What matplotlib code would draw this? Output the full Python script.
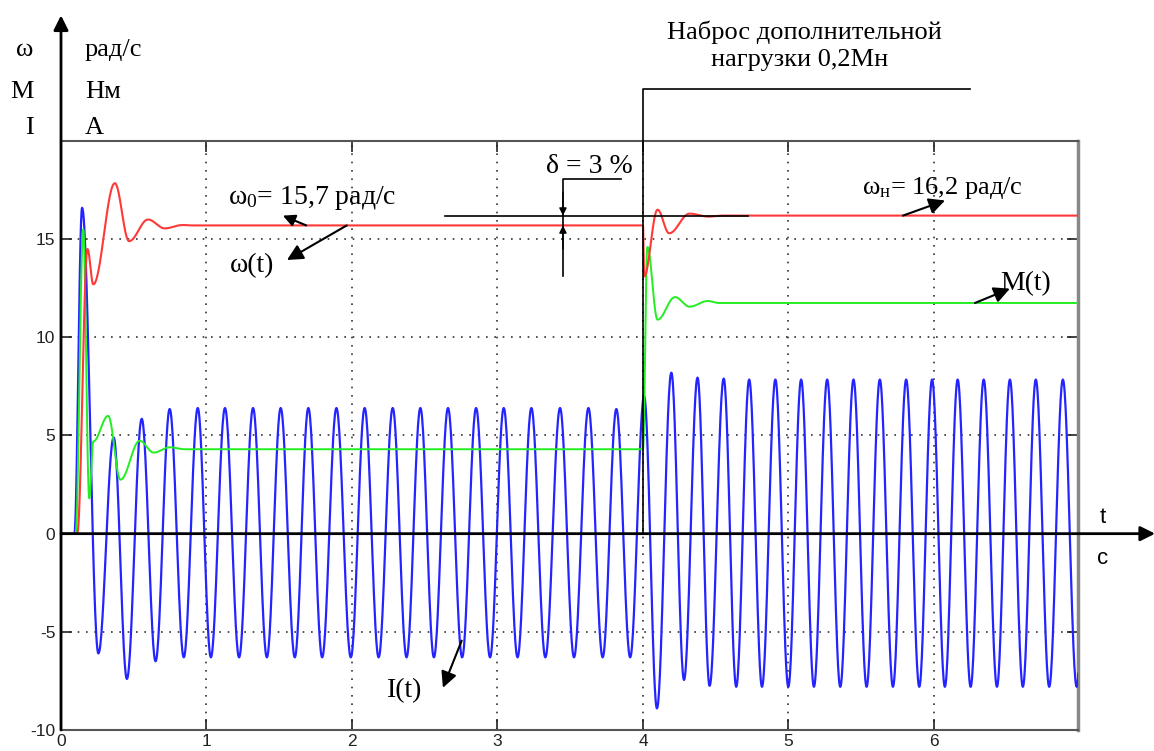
import numpy as np
import matplotlib
matplotlib.use("Agg")
import matplotlib.pyplot as plt

plt.rcParams["mathtext.fontset"] = "custom"
plt.rcParams["mathtext.rm"] = "Liberation Serif"
plt.rcParams["mathtext.it"] = "Liberation Serif:italic"

# ---- current I(t): start, positive peaks and negative troughs ----
i_start_t = [0.0, 0.092]
i_start_v = [0.0, 0.0]
i_peak_t = [0.145, 0.362, 0.555, 0.747, 0.940, 1.127, 1.320, 1.510, 1.700, 1.893,
            2.087, 2.280, 2.470, 2.660, 2.853, 3.043, 3.233, 3.430, 3.625, 3.817,
            4.008, 4.195, 4.375, 4.555, 4.730, 4.910, 5.087, 5.266, 5.447, 5.628,
            5.809, 5.987, 6.163, 6.342, 6.522, 6.700, 6.886, 7.070]
i_peak_v = [16.6, 4.9, 5.85, 6.35, 6.4, 6.4, 6.4, 6.4, 6.4, 6.4,
            6.4, 6.4, 6.4, 6.4, 6.4, 6.4, 6.4, 6.4, 6.4, 6.35,
            7.0, 8.2, 7.95, 7.9, 7.85, 7.85, 7.85, 7.85, 7.85, 7.85,
            7.85, 7.85, 7.85, 7.85, 7.85, 7.85, 7.85, 7.85]
i_trough_t = [0.257, 0.453, 0.650, 0.844, 1.030, 1.224, 1.415, 1.607, 1.795, 1.992,
              2.183, 2.375, 2.563, 2.757, 2.949, 3.138, 3.329, 3.526, 3.723, 3.912,
              4.096, 4.282, 4.458, 4.641, 4.818, 4.999, 5.175, 5.356, 5.537, 5.718,
              5.899, 6.075, 6.252, 6.433, 6.611, 6.792, 6.981]
i_trough_v = [-6.1, -7.4, -6.5, -6.3, -6.3, -6.3, -6.3, -6.3, -6.3, -6.3,
              -6.3, -6.3, -6.3, -6.3, -6.3, -6.3, -6.3, -6.3, -6.3, -6.3,
              -8.9, -7.45, -7.75, -7.8, -7.8, -7.8, -7.8, -7.8, -7.8, -7.8,
              -7.8, -7.8, -7.8, -7.8, -7.8, -7.8, -7.8]

# ---- speed w(t) and torque M(t): turning points ----
omega_0 = 15.7
omega_n = 16.2
w_t = [0.0, 0.112, 0.182, 0.222, 0.370, 0.468, 0.598, 0.712, 0.836, 0.900,
       4.000, 4.008, 4.100, 4.180, 4.320, 4.450, 4.550, 6.990]
w_v = [0.0, 0.0, 14.5, 12.7, 17.85, 14.9, 16.0, 15.55, 15.72, omega_0,
       omega_0, 13.1, 16.5, 15.3, 16.3, 16.15, omega_n, omega_n]

m_t = [0.0, 0.100, 0.153, 0.194, 0.222, 0.324, 0.409, 0.541, 0.637, 0.747,
       0.850, 4.000, 4.030, 4.100, 4.220, 4.320, 4.445, 4.520, 6.990]
m_v = [0.0, 0.0, 15.5, 1.8, 4.7, 6.0, 2.75, 4.73, 4.13, 4.4,
       4.3, 4.3, 14.6, 10.9, 12.05, 11.56, 11.85, 11.75, 11.75]

x_ticks = [0, 1, 2, 3, 4, 5, 6]
y_ticks = [-10, -5, 0, 5, 10, 15]
y_tick_labels = ["-10", "-5", "0", "5", "10", "15"]


def smooth_path(tk, vk, n=30):
    """Join successive turning points with half-cosine arcs."""
    ts, vs = [], []
    for k in range(len(tk) - 1):
        s = np.linspace(0.0, 1.0, n, endpoint=False)
        ts.append(tk[k] + s * (tk[k + 1] - tk[k]))
        vs.append(vk[k] + (vk[k + 1] - vk[k]) * (1 - np.cos(np.pi * s)) / 2)
    ts.append([tk[-1]])
    vs.append([vk[-1]])
    return np.concatenate(ts), np.concatenate(vs)


it = np.array(i_start_t + i_peak_t + i_trough_t)
iv = np.array(i_start_v + i_peak_v + i_trough_v)
order = np.argsort(it)
t_i, v_i = smooth_path(list(it[order]), list(iv[order]))
t_w, v_w = smooth_path(w_t, w_v)
t_m, v_m = smooth_path(m_t, m_v)

fig = plt.figure(figsize=(11.54, 7.51), dpi=100)
ax = fig.add_axes([61 / 1154, 21 / 751, 1017 / 1154, 589 / 751])
ax.set_xlim(0, 6.99)
ax.set_ylim(-10, 20)

ax.plot(t_i, v_i, color="#2424ff", lw=1.6, zorder=3)
ax.plot(t_m, v_m, color="#22ee22", lw=1.4, zorder=4)
ax.plot(t_w, v_w, color="#ff3838", lw=1.5, zorder=5)

ax.set_xticks(x_ticks)
ax.set_yticks(y_ticks)
ax.set_yticklabels(y_tick_labels)
ax.grid(True, color="#333333", linestyle=(0, (1, 4)), lw=1.2)
ax.tick_params(direction="in", length=8, width=1.2, top=True, right=True,
               labelsize=12.5, colors="#222222")
ax.tick_params(axis="x", pad=3)
ax.tick_params(axis="y", pad=4)
for lab in ax.get_xticklabels() + ax.get_yticklabels():
    lab.set_fontfamily("Liberation Sans")
for side in ax.spines.values():
    side.set_color("#555555")
    side.set_linewidth(1.5)
ax.spines["right"].set_linewidth(2.5)
ax.spines["right"].set_color("#888888")

# axes arrows
ax.annotate("", xy=(7.52, 0), xytext=(0, 0), annotation_clip=False,
            arrowprops=dict(arrowstyle="-|>", color="black", lw=2,
                            mutation_scale=22, shrinkA=0, shrinkB=0), zorder=6)
ax.annotate("", xy=(0, 26.4), xytext=(0, -10), annotation_clip=False,
            arrowprops=dict(arrowstyle="-|>", color="black", lw=2,
                            mutation_scale=22, shrinkA=0, shrinkB=0), zorder=6)

serif = "Liberation Serif"
sans = "Liberation Sans"
tfs = 19
for y, sym, unit in [(24.35, "ω", "рад/с"), (22.21, "M", "Нм"), (20.38, "I", "А")]:
    ax.text(-0.19, y, sym, ha="right", va="baseline", fontsize=tfs,
            family=serif, clip_on=False)
    ax.text(0.165, y, unit, ha="left", va="baseline", fontsize=tfs,
            family=serif, clip_on=False)
ax.text(7.16, 0.56, "t", ha="center", va="baseline", fontsize=16, family=sans,
        clip_on=False)
ax.text(7.16, -1.53, "с", ha="center", va="baseline", fontsize=16, family=sans,
        clip_on=False)

afs = 20
# load step annotation
ax.text(5.11, 25.17, "Наброс дополнительной", ha="center", va="baseline",
        fontsize=19, family=serif, clip_on=False)
ax.text(5.08, 23.80, "нагрузки 0,2Мн", ha="center", va="baseline",
        fontsize=19, family=serif, clip_on=False)
ax.plot([4.0, 4.0, 6.25], [0, 22.67, 22.67], color="black", lw=1.2,
        clip_on=False, zorder=7)

# speed deviation annotation
ax.plot([2.64, 4.72], [omega_n, omega_n], color="black", lw=1.2, zorder=7)
ax.plot([3.45, 3.45, 3.85], [13.14, 18.07, 18.07], color="black", lw=1.2, zorder=7)
ax.annotate("", xy=(3.45, omega_n), xytext=(3.45, 17.4),
            arrowprops=dict(arrowstyle="-|>", color="black", lw=1.0,
                            mutation_scale=11, shrinkA=0, shrinkB=0), zorder=8)
ax.annotate("", xy=(3.45, omega_0), xytext=(3.45, 14.5),
            arrowprops=dict(arrowstyle="-|>", color="black", lw=1.0,
                            mutation_scale=11, shrinkA=0, shrinkB=0), zorder=8)
ax.text(3.63, 18.39, "δ = 3 %", ha="center", va="baseline", fontsize=afs,
        family=serif)

arrow_kw = dict(arrowstyle="-|>", color="black", lw=1.5, mutation_scale=24,
                shrinkA=0, shrinkB=0)
ax.text(1.148, 16.81, r"$\mathrm{ω}_0$= 15,7 рад/с", ha="left", va="baseline",
        fontsize=afs, family=serif)
ax.annotate("", xy=(1.525, 16.2), xytext=(1.685, omega_0),
            arrowprops=dict(arrow_kw, mutation_scale=18), zorder=8)
ax.text(1.161, 13.31, "ω(t)", ha="left", va="baseline", fontsize=afs, family=serif)
ax.annotate("", xy=(1.553, 13.94), xytext=(1.964, omega_0), arrowprops=arrow_kw,
            zorder=8)
ax.text(5.505, 17.32, r"$\mathrm{ω}_\mathrm{н}$= 16,2 рад/с", ha="left",
        va="baseline", fontsize=19, family=serif)
ax.annotate("", xy=(6.076, 16.97), xytext=(5.787, omega_n), arrowprops=arrow_kw,
            zorder=8)
ax.text(6.454, 12.38, "M(t)", ha="left", va="baseline", fontsize=afs, family=serif)
ax.annotate("", xy=(6.522, 12.48), xytext=(6.282, 11.75), arrowprops=arrow_kw,
            zorder=8)
ax.text(2.24, -8.34, "I(t)", ha="left", va="baseline", fontsize=afs, family=serif)
ax.annotate("", xy=(2.625, -7.85), xytext=(2.754, -5.45), arrowprops=arrow_kw,
            zorder=8)

fig.savefig("out.png", dpi=100)
